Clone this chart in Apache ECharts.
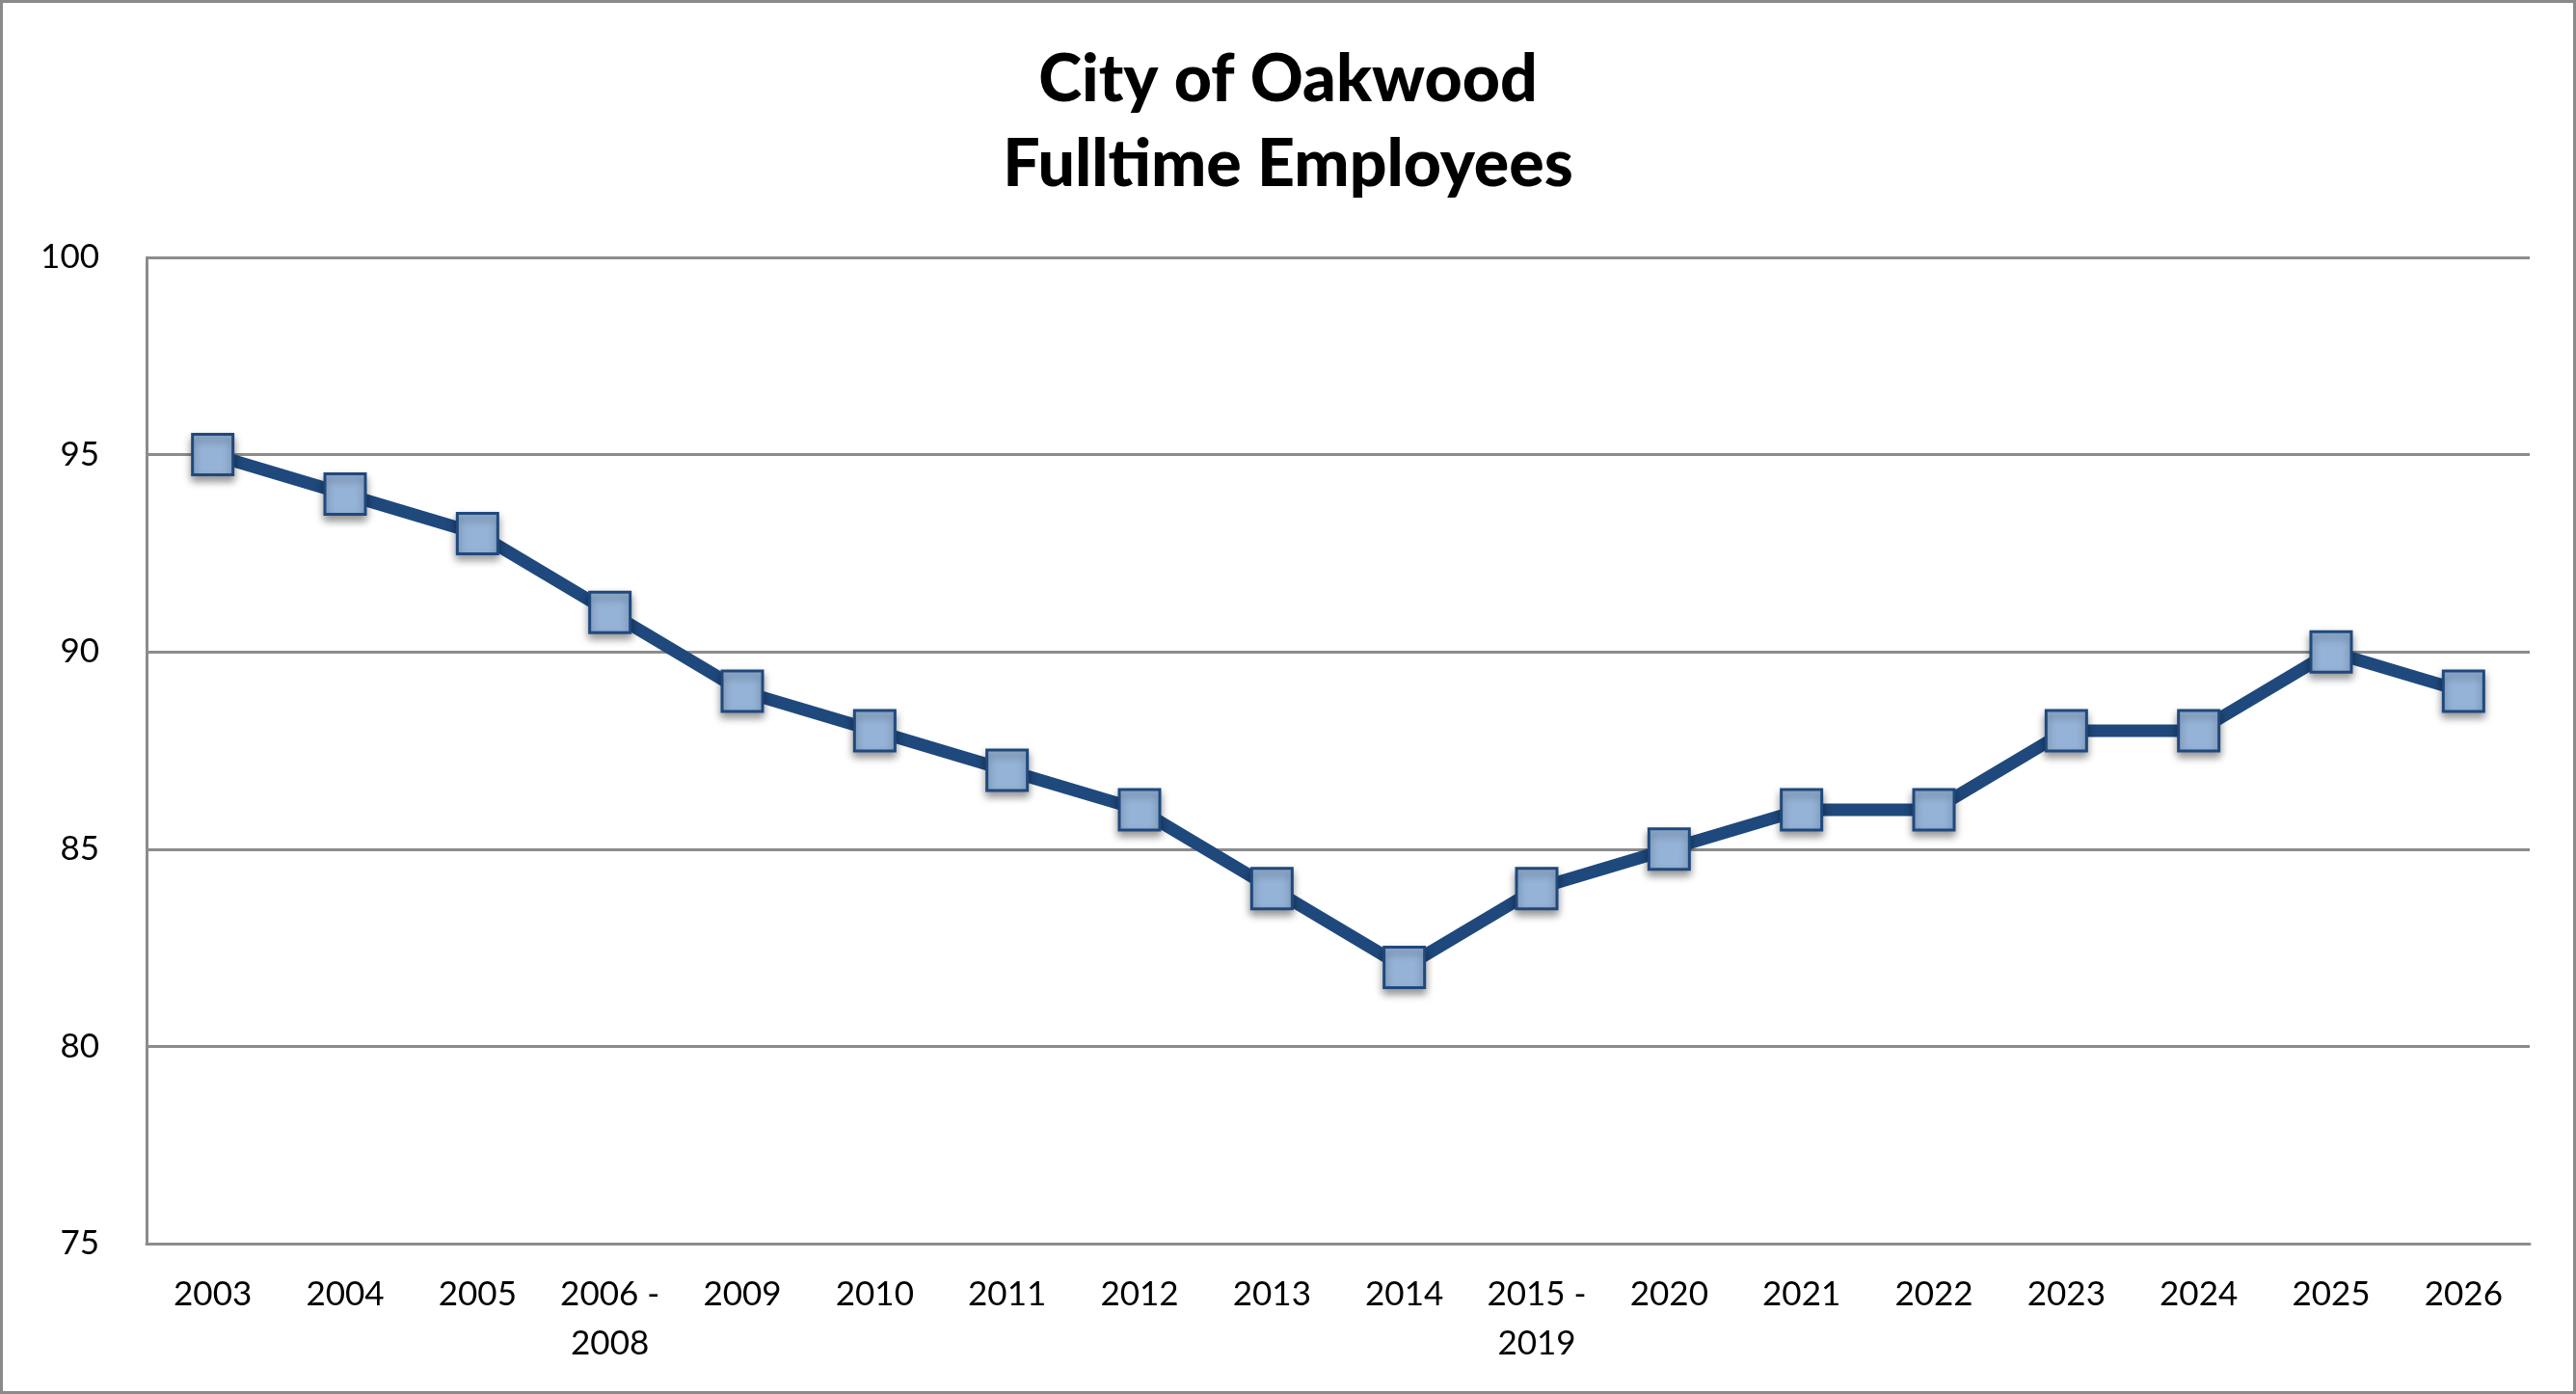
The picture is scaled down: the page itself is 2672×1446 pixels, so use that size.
<!DOCTYPE html>
<html>
<head>
<meta charset="utf-8">
<script src="https://cdn.jsdelivr.net/npm/echarts@6/dist/echarts.min.js"></script>
<style>
  html, body { margin: 0; padding: 0; background: #fff; }
  #wrap { width: 2672px; height: 1446px; box-sizing: border-box; border: 3px solid #8a8a8a; }
  #chart { width: 2666px; height: 1440px; }
</style>
</head>
<body>
<div id="wrap"><div id="chart"></div></div>
<script>
// years on the x axis (two ranges wrap onto a second line)
const years = ['2003', '2004', '2005', '2006 -\n2008', '2009', '2010', '2011', '2012', '2013',
  '2014', '2015 -\n2019', '2020', '2021', '2022', '2023', '2024', '2025', '2026'];
// fulltime employee count per year
const employees = [95, 94, 93, 91, 89, 88, 87, 86, 84, 82, 84, 85, 86, 86, 88, 88, 90, 89];
const titleLines = ['City of Oakwood', 'Fulltime Employees'];

const chart = echarts.init(document.getElementById('chart'), null, { renderer: 'canvas' });

const font = 'Lato, "Open Sans", sans-serif';

chart.setOption({
    backgroundColor: '#ffffff',
    animation: false,
    title: {
        text: titleLines.join('\n'),
        left: 'center',
        top: 31,
        textStyle: {
            fontFamily: font,
            fontWeight: 900,
            fontSize: 68,
            lineHeight: 88,
            color: '#000',
        },
    },
    grid: {
        left: 149,
        right: 45,
        top: 264,
        bottom: 153,
    },
    xAxis: {
        type: 'category',
        data: years,
        boundaryGap: true,
        axisLine: { lineStyle: { color: '#8c8c8c', width: 3 } },
        axisTick: { show: false },
        axisLabel: {
            interval: 0,
            margin: 27,
            fontFamily: font,
            fontSize: 35,
            lineHeight: 51,
            color: '#000',
        },
    },
    yAxis: {
        type: 'value',
        min: 75,
        max: 100,
        interval: 5,
        axisLine: { show: true, lineStyle: { color: '#8c8c8c', width: 3 } },
        axisTick: { show: false },
        splitLine: { lineStyle: { color: '#8c8c8c', width: 3 } },
        axisLabel: {
            margin: 49,
            fontFamily: font,
            fontSize: 35,
            color: '#000',
        },
    },
    series: [
        {
            type: 'line',
            data: employees,
            symbol: 'rect',
            symbolSize: 42,
            lineStyle: { color: '#1F497D', width: 13 },
            itemStyle: {
                color: '#95B3D7',
                borderColor: '#1F497D',
                borderWidth: 3,
                shadowColor: 'rgba(0,0,0,0.4)',
                shadowBlur: 8,
                shadowOffsetY: 5,
            },
        },
    ],
});
</script>
</body>
</html>
